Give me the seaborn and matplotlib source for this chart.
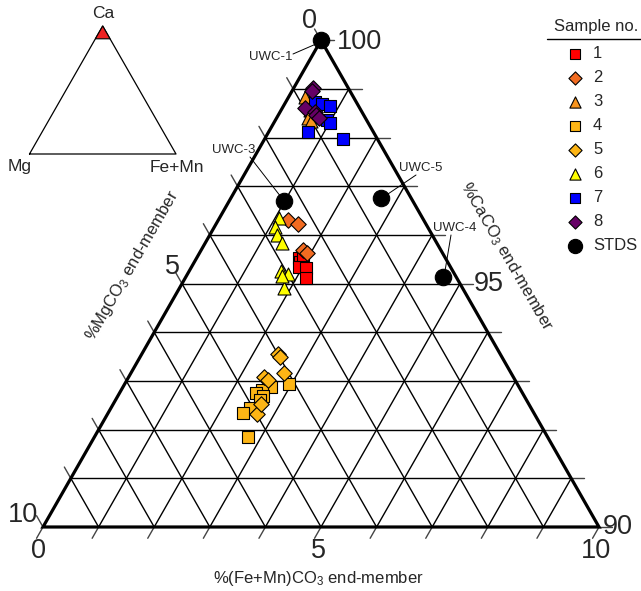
import numpy as np
import pandas as pd
import matplotlib
matplotlib.use("Agg")
import matplotlib.pyplot as plt
import seaborn as sns

# ---------------- data (wt % end-members; CaCO3 = 100 - Mg - FeMn) -------------
sample_ids = ["1", "2", "3", "4", "5", "6", "7", "8", "STDS"]

mg_1 = [2.64, 2.65, 2.72, 2.61, 2.71, 2.53]
fe_1 = [1.84, 1.91, 1.94, 2.07, 2.17, 1.88]
mg_2 = [2.44, 2.30, 2.48, 2.44]
fe_2 = [1.26, 1.47, 1.83, 1.94]
mg_3 = [0.86, 0.92, 1.02, 1.01]
fe_3 = [0.30, 0.52, 0.57, 0.65]
mg_4 = [4.11, 4.46, 4.66, 4.79, 4.69, 4.80, 5.06, 5.22, 5.39]
fe_4 = [2.96, 2.66, 2.52, 2.46, 2.62, 2.59, 2.50, 2.43, 2.77]
mg_5 = [4.00, 3.99, 4.08, 4.48, 4.44, 4.99, 4.81]
fe_5 = [2.44, 2.51, 2.76, 2.44, 2.54, 2.68, 2.66]
mg_6 = [2.59, 2.75, 2.79, 2.78, 3.09, 2.99, 3.21, 3.12]
fe_6 = [1.07, 1.08, 1.21, 1.39, 1.66, 1.81, 1.87, 1.72]
mg_7 = [0.74, 0.64, 0.51, 0.71, 0.68, 1.17, 0.62]
fe_7 = [0.52, 0.67, 0.83, 0.92, 1.02, 0.72, 1.41]
mg_8 = [0.63, 0.69, 0.99, 0.85, 0.86, 0.84]
fe_8 = [0.34, 0.36, 0.40, 0.62, 0.68, 0.76]
std_names = ["UWC-1", "UWC-3", "UWC-5", "UWC-4"]
mg_std = [0.00, 2.32, 0.54, 0.23]
fe_std = [0.00, 0.99, 2.70, 4.63]

tick_labels_mg = ["0", "5", "10"]
tick_labels_ca = ["100", "95", "90"]
tick_labels_fe = ["0", "5", "10"]

# ---------------- styling ----------------
colors = {"1": "#FF0000", "2": "#F26B21", "3": "#F7941D", "4": "#FDB515",
          "5": "#FDB515", "6": "#FFFF00", "7": "#0000FF", "8": "#660066",
          "STDS": "#000000"}
markers = {"1": "s", "2": "D", "3": "^", "4": "s", "5": "D", "6": "^",
           "7": "s", "8": "D", "STDS": "o"}
msize = {"s": 75, "D": 62, "^": 88, "o": 140}

sns.set_theme(style="white")
plt.rcParams["font.family"] = ["Liberation Sans", "DejaVu Sans"]
plt.rcParams["mathtext.fontset"] = "custom"
plt.rcParams["mathtext.rm"] = "Liberation Sans"
plt.rcParams["mathtext.it"] = "Liberation Sans:italic"

fig = plt.figure(figsize=(6.41, 5.91), dpi=100)
ax = fig.add_axes([0, 0, 1, 1])
ax.set_xlim(0, 641)
ax.set_ylim(591, 0)
ax.axis("off")

# triangle geometry (pixel space): top (321,40), BL (43,527), BR (599,527)
X0, Y0, SX, SY = 43.0, 527.0, 55.6, 48.67


def T(m, f):
    m = np.asarray(m, float)
    f = np.asarray(f, float)
    c = 10.0 - m - f
    return X0 + SX * (f + c / 2.0), Y0 - SY * c


# grid
for k in range(1, 10):
    for (a, b) in [((10 - k, 0), (0, 10 - k)),      # constant Ca
                   ((10 - k, k), (0, k)),           # constant Fe+Mn
                   ((k, 10 - k), (k, 0))]:          # constant Mg
        p, q = T(*a), T(*b)
        ax.plot([p[0], q[0]], [p[1], q[1]], color="black", lw=1.0, zorder=1)

# outer edges
corners = [T(0, 0), T(10, 0), T(0, 10), T(0, 0)]
ax.plot([c[0] for c in corners], [c[1] for c in corners], color="black",
        lw=2.3, zorder=2, solid_joinstyle="miter")

# ticks
L = 13.0
u_left = np.array([-0.496, -0.868])
u_bot = np.array([-0.496, 0.868])
for k in range(0, 11):
    p = np.array(T(0, 10 - k), float)
    ax.plot([p[0], p[0] + L], [p[1], p[1]], color="#444444", lw=1.0, zorder=1)
    p = np.array(T(k, 0), float)
    ax.plot([p[0], p[0] + L * u_left[0]], [p[1], p[1] + L * u_left[1]],
            color="#444444", lw=1.0, zorder=1)
    p = np.array(T(10 - k, k), float)
    ax.plot([p[0], p[0] + L * u_bot[0]], [p[1], p[1] + L * u_bot[1]],
            color="#444444", lw=1.0, zorder=1)

tfs = 19.5
# Mg labels (left side)
ax.text(317, 21, tick_labels_mg[0], fontsize=tfs, ha="right", va="center")
ax.text(180, 267, tick_labels_mg[1], fontsize=tfs, ha="right", va="center")
ax.text(38, 515, tick_labels_mg[2], fontsize=tfs, ha="right", va="center")
# Ca labels (right side)
ax.text(337, 42, tick_labels_ca[0], fontsize=tfs, ha="left", va="center")
ax.text(474, 284, tick_labels_ca[1], fontsize=tfs, ha="left", va="center")
ax.text(603, 527, tick_labels_ca[2], fontsize=tfs, ha="left", va="center")
# Fe labels (bottom)
ax.text(38, 551, tick_labels_fe[0], fontsize=tfs, ha="center", va="center")
ax.text(318, 551, tick_labels_fe[1], fontsize=tfs, ha="center", va="center")
ax.text(596, 551, tick_labels_fe[2], fontsize=tfs, ha="center", va="center")

# axis titles
ax.text(318, 578, r"%(Fe+Mn)CO$_3$ end-member", fontsize=12, ha="center",
        va="center")
ax.text(506, 256, r"%CaCO$_3$ end-member", fontsize=12, ha="center",
        va="center", rotation=-60, rotation_mode="anchor")
ax.text(132, 265, r"%MgCO$_3$ end-member", fontsize=12, ha="center",
        va="center", rotation=60, rotation_mode="anchor")

# ---------------- data points ----------------
series = {"1": (mg_1, fe_1), "2": (mg_2, fe_2), "3": (mg_3, fe_3),
          "4": (mg_4, fe_4), "5": (mg_5, fe_5), "6": (mg_6, fe_6),
          "7": (mg_7, fe_7), "8": (mg_8, fe_8), "STDS": (mg_std, fe_std)}
rows = []
for sid in sample_ids:
    mg, fe = series[sid]
    for a, b in zip(mg, fe):
        rows.append({"sample": sid, "MgCO3": a, "FeMnCO3": b,
                     "CaCO3": 100 - a - b})
df = pd.DataFrame(rows)
df["x"], df["y"] = T(df["MgCO3"].values, df["FeMnCO3"].values)

for i, sid in enumerate(sample_ids):
    sub = df[df["sample"] == sid]
    mk = markers[sid]
    sns.scatterplot(data=sub, x="x", y="y", marker=mk, s=msize[mk],
                    color=colors[sid], edgecolor="black", linewidth=0.8,
                    ax=ax, zorder=5 + i, legend=False)
ax.set_xlim(0, 641)
ax.set_ylim(591, 0)
ax.axis("off")

# STDS annotations
ann = {"UWC-1": ((271, 57), (293, 54), (316, 44)),
       "UWC-3": ((234, 150), (250, 157), (281, 197)),
       "UWC-5": ((421, 168), (416, 175), (385, 196)),
       "UWC-4": ((455, 228), (451, 235), (445, 271))}
for name in std_names:
    tp, a, b = ann[name]
    ax.text(tp[0], tp[1], name, fontsize=9.5, ha="center", va="center")
    ax.plot([a[0], b[0]], [a[1], b[1]], color="black", lw=0.7, zorder=3)

# ---------------- legend ----------------
ax.text(596, 27, "Sample no.", fontsize=12, ha="center", va="center")
ax.plot([547, 641], [39, 39], color="black", lw=1.0)
leg_y = [54, 78, 102, 126, 150, 174, 198, 222, 246]
leg_size = {"s": 55, "D": 45, "^": 65, "o": 105}
for sid, yy in zip(sample_ids, leg_y):
    mk = markers[sid]
    ax.scatter([575], [yy], marker=mk, s=leg_size[mk], color=colors[sid],
               edgecolor="black", linewidth=0.8, zorder=5)
    ax.text(593, yy, sid, fontsize=12, ha="left", va="center")

# ---------------- inset triangle ----------------
ia, ib, ic = (29.5, 154), (176, 154), (102.7, 26)
ax.plot([ia[0], ib[0], ic[0], ia[0]], [ia[1], ib[1], ic[1], ia[1]],
        color="black", lw=0.9, zorder=3)
fr = 0.1
ra = (ic[0] + (ia[0] - ic[0]) * fr, ic[1] + (ia[1] - ic[1]) * fr)
rb = (ic[0] + (ib[0] - ic[0]) * fr, ic[1] + (ib[1] - ic[1]) * fr)
ax.fill([ic[0], ra[0], rb[0]], [ic[1], ra[1], rb[1]], color="#EE2222",
        ec="black", lw=0.8, zorder=4)
ax.text(103, 14, "Ca", fontsize=12.5, ha="center", va="center")
ax.text(20, 167, "Mg", fontsize=12.5, ha="center", va="center")
ax.text(177, 167, "Fe+Mn", fontsize=12.5, ha="center", va="center")

fig.savefig("out.png", dpi=100)
